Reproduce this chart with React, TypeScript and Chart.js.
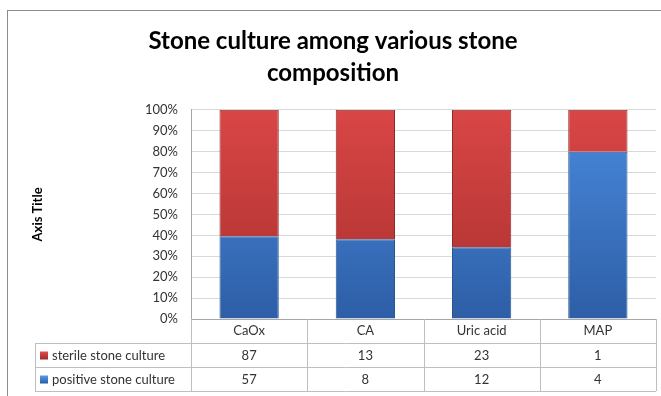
import React, { useEffect, useRef } from 'react';
import { Chart, registerables } from 'chart.js';

Chart.register(...registerables);

const categories = ['CaOx', 'CA', 'Uric acid', 'MAP'];
const sterileCounts = [87, 13, 23, 1];
const positiveCounts = [57, 8, 12, 4];
const sterileName = 'sterile stone culture';
const positiveName = 'positive stone culture';
const titleLines = ['Stone culture among various stone', 'composition'];
const yAxisTitle = 'Axis Title';

const FONT = 'Lato, "Open Sans", sans-serif';

const positivePct = positiveCounts.map((v, i) => (v / (v + sterileCounts[i])) * 100);
const sterilePct = sterileCounts.map((v, i) => (v / (v + positiveCounts[i])) * 100);

const frame = {
  id: 'frame',
  beforeDraw(chart: any) {
    const { ctx, width, height } = chart;
    ctx.save();
    ctx.fillStyle = '#ffffff';
    ctx.fillRect(0, 0, width, height);
    ctx.strokeStyle = '#8c8c8c';
    ctx.lineWidth = 1;
    ctx.strokeRect(7.5, 10.5, width + 20, height + 20);
    ctx.restore();
  },
};

const dataTable = {
  id: 'dataTable',
  afterDraw(chart: any) {
    const { ctx, chartArea } = chart;
    const left = chartArea.left;
    const right = chartArea.right;
    const top = chartArea.bottom;
    const colW = (right - left) / categories.length;
    const rowH = 24;
    const tableLeft = 35;
    const line = (x1: number, y1: number, x2: number, y2: number) => {
      ctx.beginPath();
      ctx.moveTo(x1, y1);
      ctx.lineTo(x2, y2);
      ctx.stroke();
    };
    ctx.save();
    ctx.strokeStyle = '#bfbfbf';
    ctx.lineWidth = 1;
    for (let r = 1; r <= 3; r++) {
      const y = Math.round(top + r * rowH) + 0.5;
      line(tableLeft, y, right, y);
    }
    for (let i = 0; i <= categories.length; i++) {
      const x = Math.round(left + i * colW) + 0.5;
      line(x, top, x, top + 3 * rowH);
    }
    line(tableLeft + 0.5, top + rowH, tableLeft + 0.5, top + 3 * rowH);

    const rows = [
      { name: sterileName, counts: sterileCounts, c1: '#e05050', c2: '#a02828' },
      { name: positiveName, counts: positiveCounts, c1: '#5a9ae6', c2: '#2a5ca8' },
    ];
    ctx.font = `13px ${FONT}`;
    ctx.textBaseline = 'middle';
    rows.forEach((row, r) => {
      const cy = top + rowH * (r + 1) + rowH / 2 + 0.5;
      const g = ctx.createLinearGradient(0, cy - 4, 0, cy + 4);
      g.addColorStop(0, row.c1);
      g.addColorStop(1, row.c2);
      ctx.fillStyle = g;
      ctx.fillRect(40, cy - 4, 8, 8);
      ctx.fillStyle = '#333333';
      ctx.textAlign = 'left';
      ctx.fillText(row.name, 52, cy);
      ctx.textAlign = 'center';
      row.counts.forEach((v, i) => {
        ctx.fillText(String(v), left + colW * (i + 0.5), cy);
      });
    });
    ctx.restore();
  },
};

function gradient(chart: any, top: string, bottom: string, solid: string) {
  const area = chart.chartArea;
  if (!area) return solid;
  const g = chart.ctx.createLinearGradient(0, area.top, 0, area.bottom);
  g.addColorStop(0, top);
  g.addColorStop(1, bottom);
  return g;
}

export default function App() {
  const ref = useRef<HTMLCanvasElement>(null);
  useEffect(() => {
    if (!ref.current) return;
    const chart = new Chart(ref.current, {
      type: 'bar',
      data: {
        labels: categories,
        datasets: [
          {
            label: positiveName,
            data: positivePct,
            backgroundColor: (c: any) => gradient(c.chart, '#4a8ade', '#2d5ea6', '#3f7acb'),
            borderColor: '#2a5590',
            borderWidth: 1,
            barPercentage: 0.51,
            categoryPercentage: 1,
          },
          {
            label: sterileName,
            data: sterilePct,
            backgroundColor: (c: any) => gradient(c.chart, '#d94646', '#a8302e', '#c0403c'),
            borderColor: '#8a2a28',
            borderWidth: 1,
            barPercentage: 0.51,
            categoryPercentage: 1,
          },
        ],
      },
      options: {
        responsive: false,
        animation: false,
        layout: { padding: { left: 10, right: 5, top: 10, bottom: 0 } },
        plugins: {
          legend: { display: false },
          tooltip: { enabled: false },
          title: {
            display: true,
            text: titleLines,
            color: '#000000',
            font: { family: FONT, size: 24, weight: 'bold', lineHeight: 1.35 },
            padding: { top: 15, bottom: 20 },
          },
        },
        scales: {
          x: {
            stacked: true,
            grid: { display: false, drawTicks: false },
            border: { display: true, color: '#a6a6a6' },
            ticks: { color: '#333333', font: { family: FONT, size: 13 }, padding: 4 },
            afterFit: (s: any) => {
              s.height = 77;
            },
          },
          y: {
            stacked: true,
            min: 0,
            max: 100,
            grid: { color: '#d9d9d9', drawTicks: false },
            border: { display: true, color: '#a6a6a6' },
            ticks: {
              stepSize: 10,
              color: '#333333',
              font: { family: FONT, size: 13 },
              padding: 13,
              callback: (v: any) => v + '%',
            },
            title: {
              display: true,
              text: yAxisTitle,
              color: '#000000',
              font: { family: FONT, size: 13, weight: 'bold' },
              padding: { top: 20, bottom: 0 },
            },
            afterFit: (s: any) => {
              s.width = 181;
            },
          },
        },
      },
      plugins: [frame, dataTable],
    });
    return () => chart.destroy();
  }, []);
  return (
    <div style={{ position: 'fixed', left: 0, top: 0, width: 661, height: 396 }}>
      <canvas ref={ref} width={661} height={396} />
    </div>
  );
}
